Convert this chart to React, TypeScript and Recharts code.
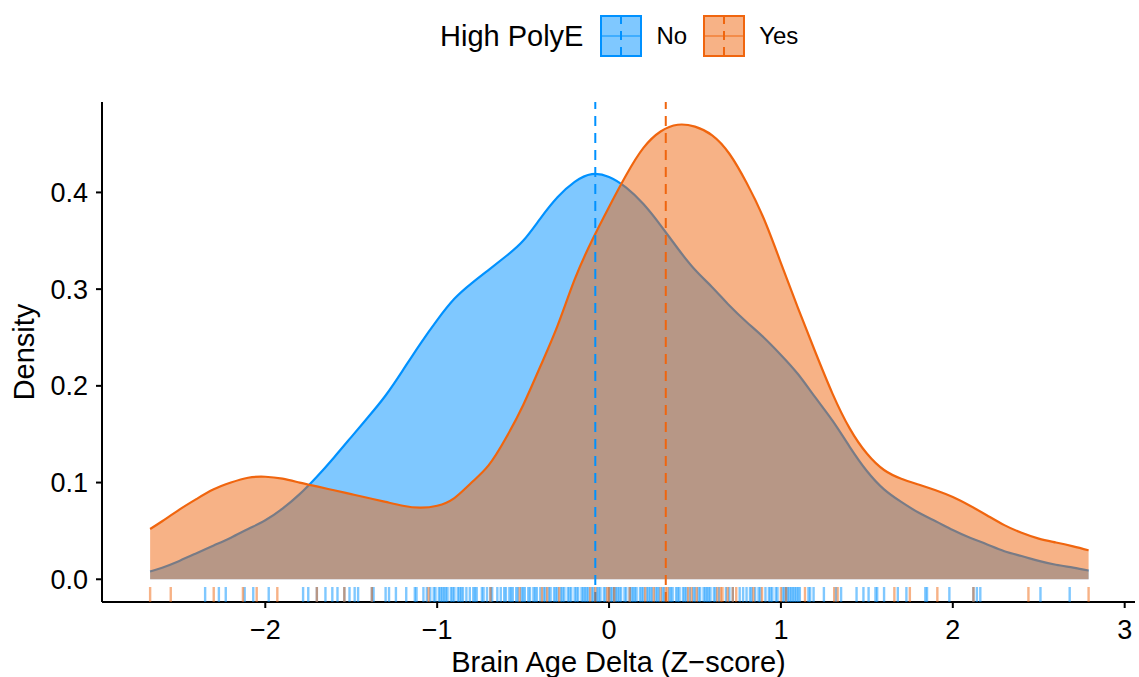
import React from "react";
import { ComposedChart, Area, Scatter, XAxis, YAxis, ReferenceLine } from "recharts";

const FONT = "'Liberation Sans', Arial, Helvetica, sans-serif";

// x positions where the two kernel density estimates are evaluated
const gridX = [
  -2.67, -2.6, -2.5, -2.4, -2.3, -2.2, -2.1, -2.0, -1.9, -1.8, -1.7, -1.6, -1.5, -1.4,
  -1.3, -1.2, -1.1, -1.0, -0.9, -0.8, -0.7, -0.6, -0.5, -0.4, -0.3, -0.2, -0.1, 0, 0.1,
  0.2, 0.3, 0.4, 0.5, 0.6, 0.7, 0.8, 0.9, 1.0, 1.1, 1.2, 1.3, 1.4, 1.5, 1.6, 1.7, 1.8,
  1.9, 2.0, 2.1, 2.2, 2.3, 2.4, 2.5, 2.6, 2.7, 2.79,
];

const densityNo = [
  0.008, 0.012, 0.019, 0.027, 0.035, 0.043, 0.052, 0.061, 0.073, 0.088, 0.106, 0.126,
  0.147, 0.168, 0.19, 0.216, 0.243, 0.268, 0.29, 0.306, 0.32, 0.334, 0.35, 0.373, 0.395,
  0.411, 0.419, 0.416, 0.405, 0.388, 0.366, 0.342, 0.32, 0.302, 0.283, 0.266, 0.25,
  0.232, 0.212, 0.188, 0.164, 0.137, 0.112, 0.093, 0.08, 0.069, 0.06, 0.051, 0.043,
  0.036, 0.029, 0.024, 0.019, 0.015, 0.012, 0.009,
];

const densityYes = [
  0.052, 0.06, 0.072, 0.083, 0.093, 0.1, 0.105, 0.106, 0.104, 0.1, 0.096, 0.092, 0.088,
  0.084, 0.08, 0.076, 0.074, 0.076, 0.084, 0.1, 0.118, 0.146, 0.18, 0.22, 0.262, 0.31,
  0.35, 0.385, 0.418, 0.446, 0.463, 0.47, 0.468, 0.459, 0.44, 0.41, 0.373, 0.327, 0.28,
  0.235, 0.192, 0.156, 0.13, 0.113, 0.104, 0.098, 0.092, 0.085, 0.076, 0.066, 0.056,
  0.048, 0.042, 0.038, 0.034, 0.03,
];

// individual observations shown as rug ticks
const rugNo = [
  -2.35, -2.27, -2.23, -2.12, -2.07, -1.98, -1.78, -1.75, -1.7, -1.65, -1.61, -1.58,
  -1.54, -1.51, -1.48, -1.46, -1.38, -1.37, -1.3, -1.28, -1.24, -1.18, -1.13, -1.12,
  -1.08, -1.06, -1.04, -1.02, -1.01, -0.99, -0.98, -0.97, -0.96, -0.95, -0.94, -0.92,
  -0.91, -0.9, -0.88, -0.87, -0.86, -0.85, -0.83, -0.81, -0.79, -0.78, -0.77, -0.74,
  -0.73, -0.71, -0.69, -0.68, -0.65, -0.63, -0.61, -0.6, -0.58, -0.57, -0.56, -0.54,
  -0.53, -0.51, -0.5, -0.49, -0.47, -0.46, -0.44, -0.43, -0.42, -0.4, -0.38, -0.37,
  -0.35, -0.34, -0.32, -0.31, -0.3, -0.28, -0.27, -0.26, -0.24, -0.23, -0.22, -0.2,
  -0.19, -0.18, -0.16, -0.15, -0.14, -0.13, -0.12, -0.1, -0.09, -0.07, -0.06, -0.05,
  -0.03, -0.02, 0.0, 0.01, 0.02, 0.03, 0.04, 0.05, 0.06, 0.07, 0.09, 0.1, 0.12, 0.13,
  0.14, 0.15, 0.16, 0.18, 0.19, 0.2, 0.22, 0.23, 0.24, 0.25, 0.27, 0.28, 0.29, 0.31,
  0.32, 0.35, 0.36, 0.37, 0.39, 0.4, 0.41, 0.43, 0.44, 0.45, 0.47, 0.49, 0.5, 0.52,
  0.53, 0.55, 0.56, 0.57, 0.58, 0.59, 0.61, 0.62, 0.64, 0.68, 0.7, 0.72, 0.76, 0.78,
  0.8, 0.82, 0.83, 0.85, 0.87, 0.88, 0.91, 0.93, 0.94, 0.95, 0.97, 0.98, 1.01, 1.02,
  1.03, 1.04, 1.05, 1.06, 1.07, 1.08, 1.09, 1.1, 1.11, 1.16, 1.17, 1.19, 1.25, 1.32,
  1.35, 1.44, 1.48, 1.51, 1.55, 1.56, 1.6, 1.68, 1.73, 1.84, 1.85, 1.98, 2.12, 2.14,
  2.16, 2.51, 2.68,
];

const rugYes = [
  -2.67, -2.55, -2.3, -2.13, -2.05, -1.93, -1.7, -1.54, -1.38, -1.05, -0.69, -0.52,
  -0.39, -0.36, -0.29, -0.11, -0.08, -0.01, 0.0, 0.03, 0.12, 0.21, 0.26, 0.3, 0.33,
  0.34, 0.46, 0.48, 0.51, 0.63, 0.65, 0.66, 0.69, 0.72, 0.74, 0.84, 0.89, 1.0, 1.03,
  1.14, 1.31, 1.33, 1.66, 1.75, 1.91, 2.12, 2.44, 2.79,
];

const meanNo = -0.08;
const meanYes = 0.33;

const xTicks = [-2, -1, 0, 1, 2, 3];
const yTicks = [0, 0.1, 0.2, 0.3, 0.4];

const X_DOMAIN: [number, number] = [-2.95, 3.06];
const Y_DOMAIN: [number, number] = [-0.0235, 0.4935];

const BLUE = "#0091ff";
const ORANGE = "#f0650e";

const groups = [
  { key: "no", label: "No", color: BLUE },
  { key: "yes", label: "Yes", color: ORANGE },
];

const densityData = gridX.map((x, i) => ({ x, no: densityNo[i], yes: densityYes[i] }));
const rugDataNo = rugNo.map((x) => ({ x, y: Y_DOMAIN[0] }));
const rugDataYes = rugYes.map((x) => ({ x, y: Y_DOMAIN[0] }));

const RUG_LEN = 15;

const rugShape = (color: string) => (props: any) => {
  const { cx, cy } = props;
  if (cx == null || cy == null) return <g />;
  return (
    <line
      x1={cx}
      x2={cx}
      y1={cy}
      y2={cy - RUG_LEN}
      stroke={color}
      strokeOpacity={0.5}
      strokeWidth={2.4}
    />
  );
};

const fmtX = (v: number) => (v < 0 ? "\u2212" + Math.abs(v) : String(v));
const fmtY = (v: number) => v.toFixed(1);

function LegendKey({ color }: { color: string }) {
  return (
    <svg width={42} height={42} style={{ display: "block" }}>
      <rect x={1} y={1} width={40} height={40} fill={color} fillOpacity={0.5} stroke={color} strokeWidth={2} />
      <line x1={2} x2={40} y1={21} y2={21} stroke={color} strokeOpacity={0.5} strokeWidth={2} />
      <line x1={21} x2={21} y1={0} y2={42} stroke={color} strokeWidth={2} strokeDasharray="9 7" />
    </svg>
  );
}

function TopLegend() {
  return (
    <div
      style={{
        position: "absolute",
        left: 440,
        top: 15,
        height: 42,
        display: "flex",
        alignItems: "center",
        fontFamily: FONT,
        color: "#000",
      }}
    >
      <span style={{ fontSize: 29, marginRight: 17 }}>High PolyE</span>
      {groups.map((g) => (
        <React.Fragment key={g.key}>
          <LegendKey color={g.color} />
          <span style={{ fontSize: 24, marginLeft: 14, marginRight: 16 }}>{g.label}</span>
        </React.Fragment>
      ))}
    </div>
  );
}

export default function App() {
  return (
    <div
      style={{
        position: "absolute",
        left: 0,
        top: 0,
        width: 1139,
        height: 677,
        background: "#fff",
        overflow: "hidden",
      }}
    >
      <TopLegend />
      <ComposedChart
        width={1139}
        height={677}
        data={densityData}
        margin={{ top: 102, right: 4, bottom: 0, left: 0 }}
      >
        <XAxis
          type="number"
          dataKey="x"
          domain={X_DOMAIN}
          ticks={xTicks}
          allowDataOverflow
          tickFormatter={fmtX}
          height={75}
          axisLine={{ stroke: "#000", strokeWidth: 2 }}
          tickLine={{ stroke: "#000", strokeWidth: 2 }}
          tickSize={6}
          tickMargin={12}
          tick={{ fill: "#000", fontSize: 27, fontFamily: FONT }}
          label={{
            content: (p: any) => {
              const vb = p.viewBox;
              return (
                <text
                  x={vb.x + vb.width / 2}
                  y={vb.y + vb.height - 5}
                  textAnchor="middle"
                  fontSize={29}
                  fontFamily={FONT}
                  fill="#000"
                >
                  Brain Age Delta (Z{"\u2212"}score)
                </text>
              );
            },
          }}
        />
        <YAxis
          type="number"
          domain={Y_DOMAIN}
          ticks={yTicks}
          allowDataOverflow
          tickFormatter={fmtY}
          width={102}
          axisLine={{ stroke: "#000", strokeWidth: 2 }}
          tickLine={{ stroke: "#000", strokeWidth: 2 }}
          tickSize={6}
          tickMargin={8}
          tick={{ fill: "#000", fontSize: 27, fontFamily: FONT }}
          label={{
            content: (p: any) => {
              const vb = p.viewBox;
              const cx = vb.x + 24;
              const cy = vb.y + vb.height / 2;
              return (
                <text
                  x={cx}
                  y={cy}
                  transform={`rotate(-90 ${cx} ${cy})`}
                  textAnchor="middle"
                  dominantBaseline="central"
                  fontSize={29}
                  fontFamily={FONT}
                  fill="#000"
                >
                  Density
                </text>
              );
            },
          }}
        />
        {groups.map((g) => (
          <Area
            key={g.key}
            type="natural"
            dataKey={g.key}
            baseValue={0}
            stroke={g.color}
            strokeWidth={2.2}
            fill={g.color}
            fillOpacity={0.5}
            isAnimationActive={false}
            dot={false}
            activeDot={false}
          />
        ))}
        <ReferenceLine x={meanNo} stroke={BLUE} strokeWidth={2} strokeDasharray="10 7" />
        <ReferenceLine x={meanYes} stroke={ORANGE} strokeWidth={2} strokeDasharray="10 7" />
        <Scatter data={rugDataNo} dataKey="y" shape={rugShape(BLUE)} isAnimationActive={false} />
        <Scatter data={rugDataYes} dataKey="y" shape={rugShape(ORANGE)} isAnimationActive={false} />
      </ComposedChart>
    </div>
  );
}
